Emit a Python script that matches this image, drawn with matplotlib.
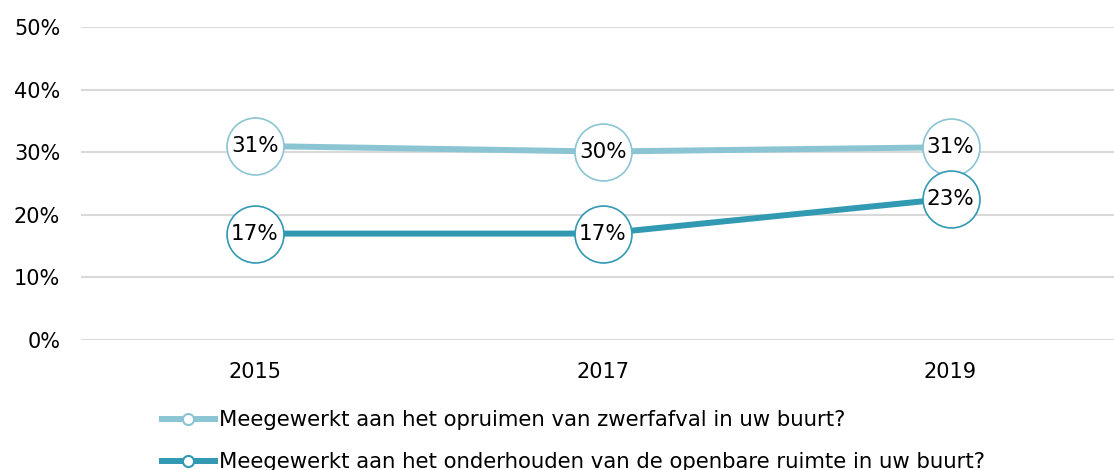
import matplotlib
matplotlib.use('Agg')
import matplotlib.pyplot as plt
from matplotlib.lines import Line2D

years = ['2015', '2017', '2019']
opruimen = [31.0, 30.1, 30.8]
onderhouden = [17.0, 17.0, 22.6]
yticks = [0, 10, 20, 30, 40, 50]
labels = ['Meegewerkt aan het opruimen van zwerfafval in uw buurt?',
          'Meegewerkt aan het onderhouden van de openbare ruimte in uw buurt?']

light = '#8bc5d3'
dark = '#3199b2'
FS = 15

plt.rcParams['font.family'] = ['DejaVu Sans']

fig = plt.figure(figsize=(11.14, 4.70), dpi=100)
ax = fig.add_axes([81/1114, 130/470, 1033/1114, 313/470])

x = list(range(len(years)))
for vals, col in [(opruimen, light), (onderhouden, dark)]:
    ax.plot(x, vals, color=col, lw=4.3, zorder=2, solid_capstyle='butt')
    ax.plot(x, vals, ls='none', marker='o', ms=41, mfc='white', mec=col,
            mew=1.2, zorder=3, clip_on=False)
    for xi, v in zip(x, vals):
        ax.text(xi, v, '%d%%' % round(v), ha='center', va='center',
                fontsize=15.5, color='black', zorder=4)

ax.set_xlim(-0.5, 2.47)
ax.set_ylim(0, 50)
ax.set_yticks(yticks)
ax.set_yticklabels(['%d%%' % t for t in yticks])
ax.set_xticks(x)
ax.set_xticklabels(years)
ax.tick_params(axis='both', length=0, labelsize=FS, colors='black')
ax.tick_params(axis='y', pad=15)
ax.tick_params(axis='x', pad=16)
ax.grid(axis='y', color='#d9d9d9', lw=1.5)
ax.set_axisbelow(True)
for s in ax.spines.values():
    s.set_visible(False)

handles = [Line2D([], [], color=c, lw=4.3, marker='o', ms=8, mfc='white',
                  mec=c, mew=1.5) for c in (light, dark)]
fig.legend(handles, labels, loc='upper left', bbox_to_anchor=(153/1114, 1 - 402/470),
           frameon=False, fontsize=15.3, handlelength=2.5, handletextpad=0.2,
           labelspacing=1.02, borderaxespad=0)

fig.savefig('out.png', dpi=100)
